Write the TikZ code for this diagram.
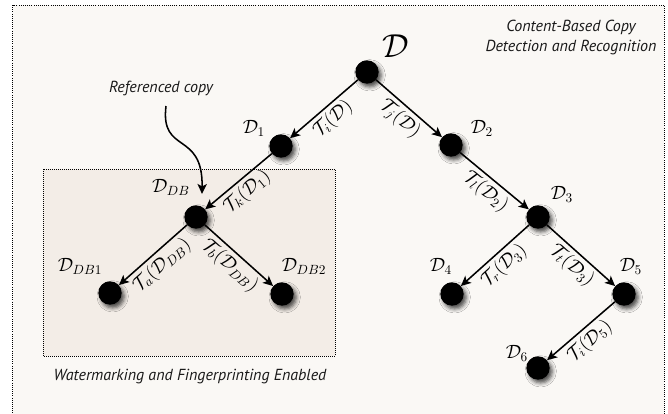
\documentclass[tikz,border=0pt]{standalone}
\usepackage{fontspec}
\newfontfamily\notefont{PT Sans}
\usetikzlibrary{arrows.meta,shadows.blur}
\definecolor{pagebg}{RGB}{250,248,245}
\definecolor{zonebg}{RGB}{243,237,231}
\begin{document}
\begin{tikzpicture}[x=0.75pt,y=-0.75pt,
  dot/.style={circle,fill=black,minimum size=17.5pt,inner sep=0pt,
    blur shadow={shadow xshift=2pt,shadow yshift=-2.5pt,shadow blur radius=3pt,shadow opacity=70}},
  edge/.style={line width=1.15pt,-{Stealth[length=7.5pt,width=7pt,inset=1.8pt]}},
  elab/.style={sloped,below,font=\Large,inner sep=2.5pt},
  nlab/.style={font=\Large,inner sep=0pt},
  note/.style={font=\notefont\itshape\fontsize{12}{15}\selectfont,align=center,inner sep=0pt,text=black!90}]

% canvas and outer frame
\useasboundingbox (0,0) rectangle (668,414);
\fill[white] (0,0) rectangle (668,414);
\begin{scope}
  \clip (0,0) rectangle (668,414);
  \draw[densely dotted,line width=0.6pt,fill=pagebg] (12.5,5) rectangle (664,430);
\end{scope}

% watermarking zone
\draw[densely dotted,line width=0.5pt,fill=zonebg] (43,169) rectangle (335,356);

% nodes of the copy tree
\node[dot] (root) at (367,72) {};
\node[dot] (d1)   at (281,146) {};
\node[dot] (d2)   at (451,145) {};
\node[dot] (ddb)  at (196,217) {};
\node[dot] (d3)   at (538,217) {};
\node[dot] (ddb1) at (110,293) {};
\node[dot] (ddb2) at (282,294) {};
\node[dot] (d4)   at (452,294) {};
\node[dot] (d5)   at (624,294) {};
\node[dot] (d6)   at (538,368) {};

% node names
\node[inner sep=0pt,font=\fontsize{27}{30}\selectfont] (lroot) at (396,46) {$\mathcal{D}$};
\node[nlab] (l1)    at (254,128) {$\mathcal{D}_1$};
\node[nlab] (l2)    at (482,128) {$\mathcal{D}_2$};
\node[nlab] (lddb)  at (171,187) {$\mathcal{D}_{DB}$};
\node[nlab] (l3)    at (562,194) {$\mathcal{D}_3$};
\node[nlab] (lddb1) at (80,266)  {$\mathcal{D}_{DB1}$};
\node[nlab] (lddb2) at (304,266) {$\mathcal{D}_{DB2}$};
\node[nlab] (l4)    at (441,266) {$\mathcal{D}_4$};
\node[nlab] (l5)    at (631,266) {$\mathcal{D}_5$};
\node[nlab] (l6)    at (517,353) {$\mathcal{D}_6$};

% transformations
\draw[edge] (root) -- node[elab] (ti)  {$\mathcal{T}_i(\mathcal{D})$} (d1);
\draw[edge] (root) -- node[elab] (tj)  {$\mathcal{T}_j(\mathcal{D})$} (d2);
\draw[edge] (d1)   -- node[elab] (tk)  {$\mathcal{T}_k(\mathcal{D}_1)$} (ddb);
\draw[edge] (d2)   -- node[elab] (tl)  {$\mathcal{T}_l(\mathcal{D}_2)$} (d3);
\draw[edge] (ddb)  -- node[elab] (ta)  {$\mathcal{T}_a(\mathcal{D}_{DB})$} (ddb1);
\draw[edge] (ddb)  -- node[elab] (tb)  {$\mathcal{T}_b(\mathcal{D}_{DB})$} (ddb2);
\draw[edge] (d3)   -- node[elab] (tr)  {$\mathcal{T}_r(\mathcal{D}_3)$} (d4);
\draw[edge] (d3)   -- node[elab] (tt)  {$\mathcal{T}_t(\mathcal{D}_3)$} (d5);
\draw[edge] (d5)   -- node[elab] (ti5) {$\mathcal{T}_i(\mathcal{D}_5)$} (d6);

% annotations
\node[note] (cbcd) at (571,37) {Content-Based Copy\\Detection and Recognition};
\node[note] (refc) at (161,88) {Referenced copy};
\node[note] (wfe)  at (190,377) {Watermarking and Fingerprinting Enabled};

\coordinate (refstart) at (166,106);
\coordinate (reftip) at (202,194);
\draw[edge] (refstart) .. controls (160,155) and (203,130) .. (reftip);
\end{tikzpicture}
\end{document}
